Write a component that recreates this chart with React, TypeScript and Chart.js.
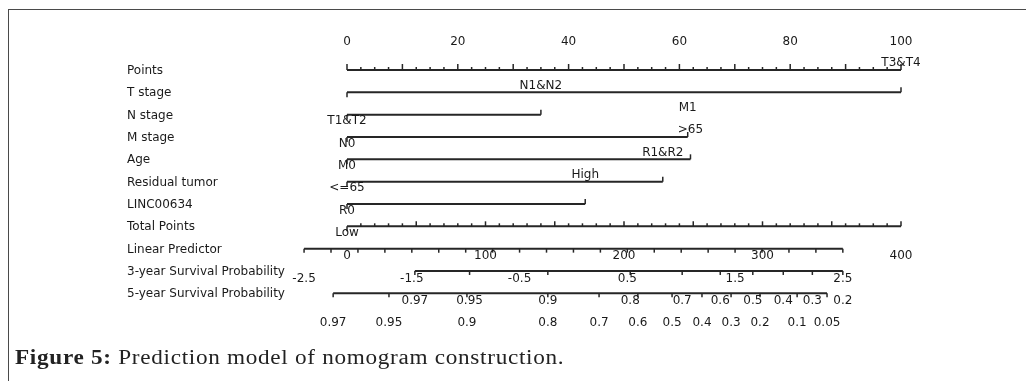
import React, { useEffect, useRef } from 'react';
import { Chart, registerables } from 'chart.js';

Chart.register(...registerables);

// ---------------- data ----------------
const rowNames = [
  'Points',
  'T stage',
  'N stage',
  'M stage',
  'Age',
  'Residual tumor',
  'LINC00634',
  'Total Points',
  'Linear Predictor',
  '3-year Survival Probability',
  '5-year Survival Probability',
];

const pointsLabels = [0, 20, 40, 60, 80, 100];

const tStageLevels = ['T1&T2', 'T3&T4'];
const tStagePoints = [0, 100];
const nStageLevels = ['N0', 'N1&N2'];
const nStagePoints = [0, 35];
const mStageLevels = ['M0', 'M1'];
const mStagePoints = [0, 61.5];
const ageLevels = ['<=65', '>65'];
const agePoints = [0, 62];
const residualLevels = ['R0', 'R1&R2'];
const residualPoints = [0, 57];
const lincLevels = ['Low', 'High'];
const lincPoints = [0, 43];

const totalPointsLabels = [0, 100, 200, 300, 400];

const lpLabels = [-2.5, -1.5, -0.5, 0.5, 1.5, 2.5];
// total points at linear predictor = 0, and total points per LP unit
const lpZeroTotal = 163.5;
const lpUnitTotal = 77.8;

const surv3Labels = ['0.97', '0.95', '0.9', '0.8', '0.7', '0.6', '0.5', '0.4', '0.3', '0.2'];
const surv3Total = [49, 88.5, 145, 204.5, 242, 269.5, 293, 315, 336, 358];

const surv5Labels = ['0.97', '0.95', '0.9', '0.8', '0.7', '0.6', '0.5', '0.4', '0.3', '0.2', '0.1', '0.05'];
const surv5Total = [-10, 30.3, 86.6, 145, 182, 210, 234.7, 256.3, 277.3, 298.2, 325, 346.6];

// ---------------- layout / style ----------------
const W = 1026;
const H = 381;
const PX_PER_POINT = 5.54;
const ZERO_X = 347;
const ROW0_Y = 70;
const ROW_H = 22.33;
const XMIN = -ZERO_X / PX_PER_POINT;
const XMAX = XMIN + W / PX_PER_POINT;
const YMIN = -ROW0_Y / ROW_H;
const YMAX = YMIN + H / ROW_H;
const LABEL_DY = 29;
const LINE_COLOR = '#262626';
const TEXT_COLOR = '#1a1a1a';
const FONT = '12px "DejaVu Sans"';

const totToPts = (t: number) => t / 4;
const lpToPts = (v: number) => totToPts(lpZeroTotal + lpUnitTotal * v);

const categoryRows = [
  { row: 1, levels: tStageLevels, pts: tStagePoints },
  { row: 2, levels: nStageLevels, pts: nStagePoints },
  { row: 3, levels: mStageLevels, pts: mStagePoints },
  { row: 4, levels: ageLevels, pts: agePoints },
  { row: 5, levels: residualLevels, pts: residualPoints },
  { row: 6, levels: lincLevels, pts: lincPoints },
];

function seg(row: number, a: number, b: number) {
  return {
    data: [
      { x: a, y: row },
      { x: b, y: row },
    ],
    showLine: true,
    borderColor: LINE_COLOR,
    borderWidth: 2,
    pointRadius: 0,
    fill: false,
  };
}

const nomogramPlugin = {
  id: 'nomogram',
  afterDatasetsDraw(chart: any) {
    const ctx = chart.ctx as CanvasRenderingContext2D;
    const xs = chart.scales.x;
    const ys = chart.scales.y;
    const X = (p: number) => xs.getPixelForValue(p);
    const Y = (r: number) => ys.getPixelForValue(r);

    ctx.save();
    ctx.strokeStyle = LINE_COLOR;
    ctx.lineWidth = 1.5;
    const tick = (px: number, py: number, len: number) => {
      ctx.beginPath();
      ctx.moveTo(px, py);
      ctx.lineTo(px, py + len);
      ctx.stroke();
    };

    // Points axis ticks (every 2.5, taller every 10)
    for (let v = 0; v <= 100 + 1e-9; v += 2.5) {
      const major = Math.abs(v / 10 - Math.round(v / 10)) < 1e-9;
      tick(X(v), Y(0), major ? -6 : -3);
    }
    // category rows
    categoryRows.forEach((c) => {
      tick(X(c.pts[0]), Y(c.row), 5);
      tick(X(c.pts[1]), Y(c.row), -5);
    });
    // total points ticks
    for (let t = 0; t <= 400; t += 10) {
      const major = t % 50 === 0;
      if (t === 0) tick(X(totToPts(t)), Y(7), 5);
      else tick(X(totToPts(t)), Y(7), major ? -5 : -3);
    }
    // linear predictor ticks
    for (let v = -2.5; v <= 2.5 + 1e-9; v += 0.25) tick(X(lpToPts(v)), Y(8), 4);
    surv3Total.forEach((t) => tick(X(totToPts(t)), Y(9), 4));
    surv5Total.forEach((t) => tick(X(totToPts(t)), Y(10), 4));

    // text
    ctx.fillStyle = TEXT_COLOR;
    ctx.font = FONT;
    ctx.textBaseline = 'middle';
    ctx.textAlign = 'left';
    rowNames.forEach((n, i) => ctx.fillText(n, 127, Y(i) + 1));

    ctx.textAlign = 'center';
    pointsLabels.forEach((v) => ctx.fillText(String(v), X(v), Y(0) - LABEL_DY + 1));
    categoryRows.forEach((c) => {
      ctx.fillText(c.levels[0], X(c.pts[0]), Y(c.row) + LABEL_DY);
      ctx.fillText(c.levels[1], X(c.pts[1]), Y(c.row) - LABEL_DY);
    });
    totalPointsLabels.forEach((t) => ctx.fillText(String(t), X(totToPts(t)), Y(7) + LABEL_DY + 1));
    lpLabels.forEach((v) => ctx.fillText(String(v), X(lpToPts(v)), Y(8) + LABEL_DY + 1));
    surv3Labels.forEach((s, i) => ctx.fillText(s, X(totToPts(surv3Total[i])), Y(9) + LABEL_DY + 1));
    surv5Labels.forEach((s, i) => ctx.fillText(s, X(totToPts(surv5Total[i])), Y(10) + LABEL_DY + 1));
    ctx.restore();
  },
};

export default function App() {
  const ref = useRef<HTMLCanvasElement>(null);

  useEffect(() => {
    const datasets: any[] = [];
    datasets.push(seg(0, 0, 100));
    categoryRows.forEach((c) => datasets.push(seg(c.row, c.pts[0], c.pts[1])));
    datasets.push(seg(7, totToPts(totalPointsLabels[0]), totToPts(totalPointsLabels[totalPointsLabels.length - 1])));
    datasets.push(seg(8, lpToPts(lpLabels[0]), lpToPts(lpLabels[lpLabels.length - 1])));
    datasets.push(seg(9, totToPts(surv3Total[0]), totToPts(surv3Total[surv3Total.length - 1])));
    datasets.push(seg(10, totToPts(surv5Total[0]), totToPts(surv5Total[surv5Total.length - 1])));

    const chart = new Chart(ref.current as HTMLCanvasElement, {
      type: 'scatter',
      data: { datasets },
      options: {
        responsive: false,
        animation: false,
        devicePixelRatio: 1,
        layout: { padding: 0 },
        plugins: { legend: { display: false }, tooltip: { enabled: false }, title: { display: false } },
        scales: {
          x: { type: 'linear', display: false, min: XMIN, max: XMAX },
          y: { type: 'linear', display: false, min: YMIN, max: YMAX, reverse: true },
        },
      },
      plugins: [nomogramPlugin],
    } as any);
    return () => chart.destroy();
  }, []);

  return (
    <div style={{ position: 'fixed', left: 0, top: 0, width: W, height: H, background: '#fff', overflow: 'hidden' }}>
      <div
        style={{
          position: 'absolute',
          left: 8,
          top: 9,
          width: W,
          height: H,
          borderLeft: '1px solid #4a4a4a',
          borderTop: '1px solid #4a4a4a',
        }}
      />
      <canvas ref={ref} width={W} height={H} style={{ position: 'absolute', left: 0, top: 0, width: W, height: H }} />
      <div
        style={{
          position: 'absolute',
          left: 15,
          top: 346,
          font: '20px "Liberation Serif"',
          lineHeight: '22px',
          letterSpacing: '0.6px',
          color: '#222',
          whiteSpace: 'nowrap',
          transform: 'scaleX(1.16)',
          transformOrigin: 'left center',
        }}
      >
        <b>Figure 5:</b> Prediction model of nomogram construction.
      </div>
    </div>
  );
}
